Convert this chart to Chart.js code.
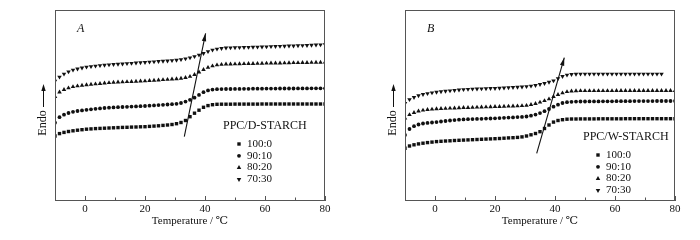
<!DOCTYPE html>
<html>
<head>
<meta charset="utf-8">
<script src="https://cdn.jsdelivr.net/npm/chart.js@4.4.1/dist/chart.umd.min.js"></script>
<style>
  html, body { margin: 0; padding: 0; background: #fff; }
  #wrap { display: flex; width: 700px; height: 240px; }
  .box { position: relative; width: 350px; height: 240px; }
</style>
</head>
<body>
<div id="wrap">
  <div class="box"><canvas id="chartA"></canvas></div>
  <div class="box"><canvas id="chartB"></canvas></div>
</div>
<script>
// temperature of each DSC marker, deg C
const temps = [-10,-8.5,-7,-5.5,-4,-2.5,-1,0.5,2,3.5, 5,6.5,8,9.5,11,12.5,14,15.5,17,18.5,
  20,21.5,23,24.5,26,27.5,29,30.5,32,33.5, 35,36.5,38,39.5,41,42.5,44,45.5,47,48.5,
  50,51.5,53,54.5,56,57.5,59,60.5,62,63.5, 65,66.5,68,69.5,71,72.5,74,75.5,77,78.5, 80];
const xTicks = [0, 20, 40, 60, 80];
const ratios = ['100:0', '90:10', '80:20', '70:30'];

// panel A : PPC/D-STARCH (heat flow, arbitrary units)
const a100 = [64,66.4,67.6,68.5,69.2,69.8,70.3,70.8,71.1,71.4, 71.6,71.8,72,72.2,72.4,72.6,72.7,72.9,73,73.2,
  73.3,73.6,73.9,74.2,74.6,75,75.5,76.3,77.5,79.5, 83.3,86.8,89.8,92.7,94.4,95.3,95.7,95.8,95.8,95.8,
  95.9,95.9,95.9,95.9,95.9,95.9,96,96,96,96, 96,96,96,96,96,96,96,96,96,96, 96];
const a9010 = [77.3,82.8,85.3,87,88.2,89,89.6,90.2,90.7,91.2, 91.6,92,92.3,92.6,92.8,93,93.2,93.4,93.6,93.8,
  94,94.3,94.6,94.9,95.2,95.5,95.8,96.2,97,98.4, 100.2,102.3,105.1,107.8,109.6,110.4,110.8,110.9,111,111,
  111.1,111.1,111.2,111.2,111.3,111.3,111.3,111.4,111.4,111.4, 111.5,111.5,111.5,111.5,111.6,111.6,111.6,111.7,111.7,111.7, 111.7];
const a8020 = [103.3,107.8,110.3,112,113.2,114,114.6,115.1,115.6,116, 116.4,116.8,117.2,117.6,117.8,118,118.2,118.4,118.6,118.8,
  119,119.3,119.6,119.9,120.2,120.5,120.8,121.1,121.6,122.3, 123.5,125.3,127.8,130.3,132.5,134,135,135.5,135.8,135.9,
  136,136.1,136.2,136.3,136.4,136.5,136.6,136.7,136.8,136.9, 136.9,137,137.1,137.2,137.2,137.3,137.4,137.5,137.6,137.6, 137.7];
const a7030 = [119,123,126,128.3,130,131.2,132.2,133,133.5,134, 134.5,134.9,135.3,135.6,135.9,136.2,136.5,136.8,137.1,137.4,
  137.7,138,138.3,138.6,138.9,139.2,139.5,139.9,140.5,141.3, 142.3,143.5,145,146.7,148.5,150,151,151.7,152.1,152.3,
  152.4,152.5,152.6,152.8,152.9,153,153.2,153.3,153.5,153.6, 153.8,153.9,154.1,154.2,154.4,154.5,154.7,154.9,155.1,155.3, 155.5];

// panel B : PPC/W-STARCH
const b100 = [51.7,54,55.2,56.1,56.8,57.4,57.9,58.4,58.7,59, 59.2,59.5,59.7,59.9,60.1,60.3,60.5,60.7,60.9,61.1,
  61.3,61.5,61.8,62.1,62.3,62.6,63.1,64,65.2,66.5, 68.3,71.5,75,77.9,79.5,80.3,80.8,81,81,81.1,
  81.1,81.1,81.1,81.2,81.2,81.2,81.2,81.2,81.2,81.3, 81.3,81.3,81.3,81.3,81.3,81.3,81.3,81.3,81.3,81.3, 81.3];
const b9010 = [65,71,73.8,75.5,76.5,77.1,77.5,77.9,78.5,79, 79.5,79.9,80.3,80.6,80.8,80.9,81.1,81.2,81.4,81.5,
  81.7,81.9,82.2,82.4,82.6,82.9,83.1,83.5,84.3,85.4, 86.9,88.8,91,93.3,95.3,97,97.8,98.2,98.4,98.5,
  98.5,98.6,98.6,98.6,98.7,98.7,98.7,98.8,98.8,98.8, 98.8,98.9,98.9,98.9,98.9,98.9,99,99,99,99, 99];
const b8020 = [81.7,85.2,87.3,88.8,89.7,90.3,90.7,91.1,91.3,91.5, 91.7,91.9,92.1,92.3,92.4,92.5,92.7,92.8,93,93.1,
  93.3,93.4,93.6,93.7,93.9,94,94.2,94.5,95.3,96.4, 97.7,99.2,101,103.3,105.3,107,108.2,108.9,109.1,109.2,
  109.2,109.2,109.2,109.2,109.2,109.2,109.2,109.3,109.3,109.3, 109.3,109.3,109.3,109.3,109.3,109.3,109.3,109.3,109.3,109.3, 109.3];
const b7030 = [96.7,100.5,102.7,104.4,105.6,106.5,107.3,107.9,108.4,108.9, 109.3,109.7,110.1,110.5,110.8,111,111.1,111.3,111.4,111.6,
  111.7,111.9,112.2,112.4,112.6,112.9,113.1,113.5,114,114.7, 115.6,116.7,117.9,119.3,121.5,123.6,125,125.6,125.9,126,
  126,126,126,126,126,126,126,126,126,126, 126,126,126,126,126,126,126,126];

// Tg shift arrows: [start, end]
const arrowAx = [33.1, 40.2], arrowAy = [63.3, 166.7];
const arrowBx = [33.9, 43.1], arrowBy = [46.7, 142.3];

const SERIF = "'Liberation Serif', 'DejaVu Serif', serif";
const INK = '#111';
const markers = [
  { pointStyle: 'rect', radius: 2.4, rotation: 0 },
  { pointStyle: 'circle', radius: 1.9, rotation: 0 },
  { pointStyle: 'triangle', radius: 2.6, rotation: 0 },
  { pointStyle: 'triangle', radius: 2.6, rotation: 180 },
];

function pts(vals) { return vals.map((v, i) => ({ x: temps[i], y: v })); }

const panelDeco = {
  id: 'panelDeco',
  afterDatasetsDraw(chart, args, o) {
    const { ctx, chartArea: ca, scales: { x, y } } = chart;
    ctx.save();
    // frame
    ctx.strokeStyle = '#555'; ctx.lineWidth = 1;
    ctx.strokeRect(ca.left + 0.5, ca.top + 0.5, ca.right - ca.left - 1, ca.bottom - ca.top);
    // inner tick marks
    ctx.beginPath();
    for (let t = 0; t <= 80; t += 10) {
      const px = Math.round(x.getPixelForValue(t)) + 0.5;
      ctx.moveTo(px, ca.bottom);
      ctx.lineTo(px, ca.bottom - (t % 20 === 0 ? 4 : 2.5));
    }
    ctx.stroke();
    // arrow head
    const ds = chart.data.datasets[4].data;
    const x0 = x.getPixelForValue(ds[0].x), y0 = y.getPixelForValue(ds[0].y);
    const x1 = x.getPixelForValue(ds[1].x), y1 = y.getPixelForValue(ds[1].y);
    const ang = Math.atan2(y1 - y0, x1 - x0);
    ctx.fillStyle = INK;
    ctx.beginPath();
    ctx.moveTo(x1, y1);
    ctx.lineTo(x1 - 8 * Math.cos(ang) + 2.2 * Math.sin(ang), y1 - 8 * Math.sin(ang) - 2.2 * Math.cos(ang));
    ctx.lineTo(x1 - 8 * Math.cos(ang) - 2.2 * Math.sin(ang), y1 - 8 * Math.sin(ang) + 2.2 * Math.cos(ang));
    ctx.closePath(); ctx.fill();
    // panel letter
    ctx.fillStyle = INK;
    ctx.font = 'italic 12px ' + SERIF;
    ctx.textBaseline = 'middle'; ctx.textAlign = 'left';
    ctx.fillText(o.letter, ca.left + 22, 29);
    // legend
    ctx.font = '12px ' + SERIF;
    ctx.fillText(o.title, o.lx, o.ly);
    ctx.font = '11px ' + SERIF;
    ratios.forEach((r, i) => {
      const yy = o.ly + 18 + i * 11.8;
      Chart.helpers.drawPoint(ctx, markers[i], o.lx + o.mdx, yy);
      ctx.fillStyle = INK;
      ctx.fillText(r, o.lx + o.mdx + 8, yy);
    });
    // y label + arrow
    ctx.save();
    ctx.translate(43, 123);
    ctx.rotate(-Math.PI / 2);
    ctx.textAlign = 'center';
    ctx.font = '12px ' + SERIF;
    ctx.fillText('Endo', 0, 0);
    ctx.restore();
    ctx.strokeStyle = INK; ctx.lineWidth = 1;
    ctx.beginPath(); ctx.moveTo(43.5, 107); ctx.lineTo(43.5, 88); ctx.stroke();
    ctx.beginPath(); ctx.moveTo(43.5, 84); ctx.lineTo(41.3, 91); ctx.lineTo(45.7, 91); ctx.closePath(); ctx.fill();
    ctx.restore();
  }
};

function makeChart(id, series, ax, ay, deco) {
  const datasets = series.map((vals, i) => ({
    label: ratios[i],
    data: pts(vals),
    showLine: false,
    pointStyle: markers[i].pointStyle,
    rotation: markers[i].rotation,
    pointRadius: markers[i].radius,
    pointBackgroundColor: INK,
    pointBorderColor: INK,
    pointBorderWidth: 0,
  }));
  datasets.push({
    label: 'arrow',
    data: ax.map((v, i) => ({ x: v, y: ay[i] })),
    showLine: true, borderColor: INK, borderWidth: 1.1, pointRadius: 0,
  });
  return new Chart(document.getElementById(id), {
    type: 'scatter',
    data: { datasets },
    options: {
      responsive: true, maintainAspectRatio: false, animation: false,
      layout: { padding: { top: 10, right: 25, left: 0, bottom: 12 } },
      plugins: { legend: { display: false }, tooltip: { enabled: false }, panelDeco: deco },
      scales: {
        x: {
          type: 'linear', min: -10, max: 80,
          grid: { display: false, drawTicks: false },
          border: { color: '#555', width: 1 },
          afterBuildTicks: s => { s.ticks = xTicks.map(v => ({ value: v })); },
          afterFit: s => { s.height = 28; },
          ticks: { color: INK, padding: 3, font: { family: SERIF, size: 11 } },
          title: { display: true, text: 'Temperature / ℃', color: INK, padding: 0, font: { family: SERIF, size: 11 } },
        },
        y: {
          type: 'linear', min: 0, max: 190,
          grid: { display: false, drawTicks: false },
          border: { color: '#555', width: 1 },
          ticks: { display: false },
          afterFit: s => { s.width = 55; },
        }
      }
    },
    plugins: [panelDeco]
  });
}

makeChart('chartA', [a100, a9010, a8020, a7030], arrowAx, arrowAy,
  { letter: 'A', title: 'PPC/D-STARCH', lx: 223, ly: 126, mdx: 16 });
makeChart('chartB', [b100, b9010, b8020, b7030], arrowBx, arrowBy,
  { letter: 'B', title: 'PPC/W-STARCH', lx: 233, ly: 137, mdx: 15 });
</script>
</body>
</html>
